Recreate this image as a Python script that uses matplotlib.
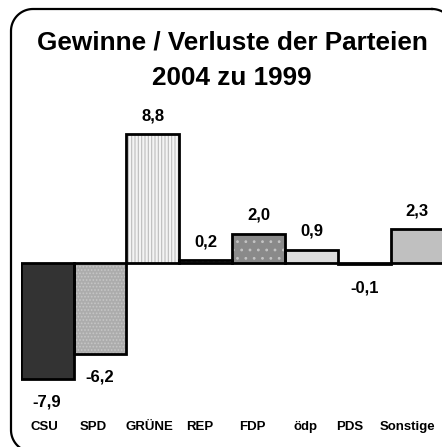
import numpy as np
import matplotlib
matplotlib.use("Agg")
import matplotlib.pyplot as plt
from matplotlib.lines import Line2D

# data
parteien = ["CSU", "SPD", "GRÜNE", "REP", "FDP", "ödp", "PDS", "Sonstige"]
diff = [-7.9, -6.2, 8.8, 0.2, 2.0, 0.9, -0.1, 2.3]
title1 = "Gewinne / Verluste der Parteien"
title2 = "2004 zu 1999"

# styles (fill, hatch colour, hatch)
fills = ["#333333", "#acacac", "#f4f4f4", "#555555", "#8a8a8a", "#dcdcdc", "#ffffff", "#c0c0c0"]
hcols = ["#333333", "#c6c6c6", "#bdbdbd", "#999999", "#c4c4c4", "#dcdcdc", "#ffffff", "#c0c0c0"]
hatches = [None, ".....", "|||||", "...", "..", None, None, None]
# small horizontal nudges of the category labels (bar widths)
lbl_dx = [-0.06, -0.13, -0.06, -0.12, -0.11, -0.12, -0.27, -0.19]

plt.rcParams["font.family"] = ["Liberation Sans", "DejaVu Sans"]
plt.rcParams["font.weight"] = "bold"
plt.rcParams["hatch.linewidth"] = 0.8
plt.rcParams["savefig.bbox"] = "standard"

W, H, DPI = 442, 447, 100
fig = plt.figure(figsize=(W / DPI, H / DPI), dpi=DPI)


def rounded_frame(x0, y0, x1, y1, r, n=24):
    # rounded rectangle in pixel coords (y down), returned as figure fractions
    pts = []
    corners = [(x1 - r, y0 + r, -90, 0), (x1 - r, y1 - r, 0, 90),
               (x0 + r, y1 - r, 90, 180), (x0 + r, y0 + r, 180, 270)]
    for cx, cy, a0, a1 in corners:
        a = np.radians(np.linspace(a0, a1, n))
        pts += list(zip(cx + r * np.cos(a), cy + r * np.sin(a)))
    pts.append(pts[0])
    px = np.array(pts)
    return px[:, 0] / W, 1 - px[:, 1] / H


fx, fy = rounded_frame(11, 9, 454, 452, 22)
fig.add_artist(Line2D(fx, fy, transform=fig.transFigure, color="black",
                      linewidth=1.6, solid_joinstyle="round"))

fig.text(232 / W, (H - 49.3) / H, title1, ha="center", va="baseline",
         fontsize=18.8, fontweight="bold")
fig.text(232 / W, (H - 85) / H, title2, ha="center", va="baseline",
         fontsize=18.8, fontweight="bold")

ax = fig.add_axes([20.7 / W, (H - 387.6) / H, 422.9 / W, 263.9 / H])
ax.set_xlim(-0.5, 7.5)
ax.set_ylim(-8.5, 9.5)
ax.axis("off")

x = list(range(len(parteien)))
for i, v in enumerate(diff):
    ax.bar(i, v, width=1.0, color=fills[i], edgecolor=hcols[i],
           hatch=hatches[i], linewidth=0, zorder=2)
ax.bar(x, diff, width=1.0, fill=False, edgecolor="black",
       linewidth=2.0, zorder=3)

for i, v in enumerate(diff):
    txt = f"{v:.1f}".replace(".", ",")
    off = 10 if v >= 0 else -20
    ax.annotate(txt, (i, v), xytext=(0, off), textcoords="offset points",
                ha="center", va="baseline", fontsize=12, fontweight="bold",
                annotation_clip=False)

for i, name in enumerate(parteien):
    ax.text(i + lbl_dx[i], -11.4, name, ha="center", va="baseline",
            fontsize=9.5, fontweight="bold", clip_on=False)

fig.savefig("out.png", dpi=DPI)
